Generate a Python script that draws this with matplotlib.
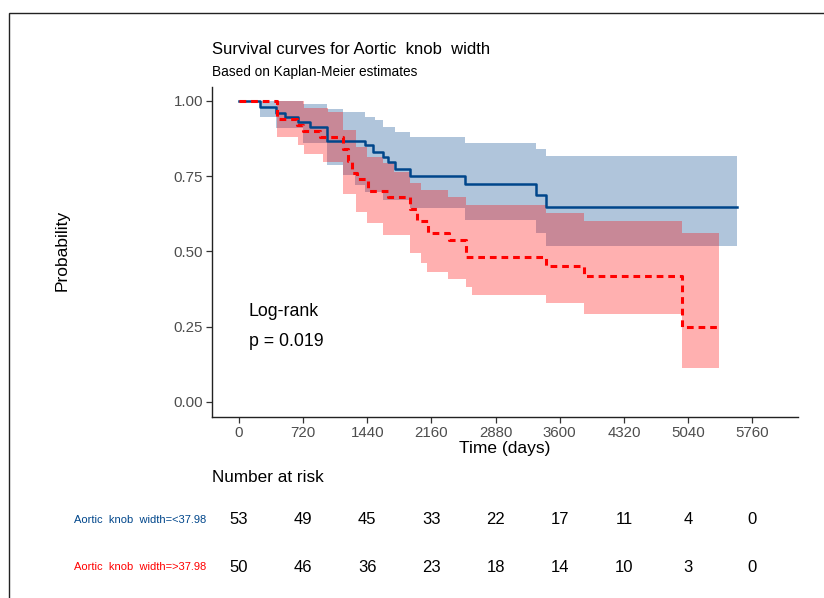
import matplotlib
matplotlib.use("Agg")
import matplotlib.pyplot as plt
import matplotlib.transforms as mtransforms
from matplotlib.patches import Rectangle

plt.rcParams['font.family'] = ['Liberation Sans', 'DejaVu Sans']

# Kaplan-Meier curve, group <37.98 (blue)
blue_t = [0, 236, 415, 517, 662, 797, 988, 1415, 1505, 1617, 1673, 1752, 1920, 2538, 3335, 3447]
blue_s = [1.0, 0.981, 0.961, 0.948, 0.93, 0.914, 0.868, 0.854, 0.831, 0.814, 0.797, 0.774, 0.751, 0.724, 0.688, 0.649]
blue_end = 5592
# confidence band, blue
blue_band_t = [0, 236, 415, 719, 988, 1168, 1302, 1415, 1527, 1617, 1752, 1920, 2538, 3335, 3447, 5592]
blue_upper = [1.0, 1.0, 1.0, 0.99, 0.975, 0.963, 0.963, 0.947, 0.937, 0.914, 0.897, 0.88, 0.86, 0.84, 0.817, 0.817]
blue_lower = [1.0, 0.947, 0.91, 0.86, 0.787, 0.754, 0.721, 0.698, 0.698, 0.671, 0.671, 0.645, 0.605, 0.561, 0.518, 0.518]

# Kaplan-Meier curve, group >37.98 (red)
red_t = [0, 427, 651, 719, 910, 1168, 1224, 1269, 1325, 1448, 1673, 1920, 1999, 2122, 2358, 2549, 3447, 3874, 4974]
red_s = [1.0, 0.94, 0.92, 0.90, 0.88, 0.84, 0.80, 0.76, 0.74, 0.70, 0.68, 0.64, 0.60, 0.56, 0.538, 0.482, 0.452, 0.419, 0.25]
red_end = 5390
# confidence band, red
red_band_t = [427, 662, 730, 943, 999, 1168, 1314, 1437, 1617, 1740, 1920, 2044, 2111, 2347, 2549, 2616, 3447, 3874, 4974, 5390]
red_upper = [1.0, 1.0, 0.977, 0.977, 0.963, 0.904, 0.847, 0.814, 0.794, 0.764, 0.727, 0.704, 0.704, 0.68, 0.655, 0.655, 0.628, 0.601, 0.561, 0.561]
red_lower = [0.88, 0.854, 0.824, 0.797, 0.797, 0.69, 0.631, 0.594, 0.555, 0.555, 0.495, 0.462, 0.432, 0.41, 0.382, 0.355, 0.328, 0.292, 0.113, 0.113]

# number at risk
risk_times = [0, 720, 1440, 2160, 2880, 3600, 4320, 5040, 5760]
risk_blue = [53, 49, 45, 33, 22, 17, 11, 4, 0]
risk_red = [50, 46, 36, 23, 18, 14, 10, 3, 0]
group_labels = ['Aortic  knob  width=<37.98', 'Aortic  knob  width=>37.98']

blue = '#00468B'
red = '#FF0000'

W, H = 824, 598
fig = plt.figure(figsize=(W / 100, H / 100), dpi=100)

# outer frame (only left and top visible)
fig.patches.append(Rectangle((9 / W, -0.1), 1.2, 1 - 13 / H + 0.1, transform=fig.transFigure,
                             fill=False, edgecolor='#222222', linewidth=1.0))

ax = fig.add_axes([212 / W, 1 - 417 / H, (798 - 212) / W, (417 - 87) / H])

ax.fill_between(blue_band_t, blue_lower, blue_upper, step='post', color=blue, alpha=0.31, linewidth=0)
ax.step(blue_t + [blue_end], blue_s + [blue_s[-1]], where='post', color=blue, linewidth=1.8)
ax.fill_between(red_band_t, red_lower, red_upper, step='post', color=red, alpha=0.31, linewidth=0)
ax.step(red_t + [red_end], red_s + [red_s[-1]], where='post', color=red, linewidth=2.2,
        linestyle=(0, (2.2, 1.6)))

ax.set_xlim(-303, 6274)
ax.set_ylim(-0.05, 1.0465)
ax.set_xticks(risk_times)
ax.set_yticks([0, 0.25, 0.5, 0.75, 1.0])
ax.set_yticklabels(['0.00', '0.25', '0.50', '0.75', '1.00'])
ax.tick_params(labelsize=10.8, labelcolor='#4D4D4D', color='#333333', length=4, width=0.9, pad=2.5)
for s in ['top', 'right']:
    ax.spines[s].set_visible(False)
for s in ['left', 'bottom']:
    ax.spines[s].set_linewidth(1.0)
    ax.spines[s].set_color('#222222')

ax.set_xlabel('Time (days)', fontsize=12.5, labelpad=1)
fig.text(62 / W, 1 - 250 / H, 'Probability', rotation=90, fontsize=12.5, ha='center', va='center')

ax.text(249 / W, 1 - 312 / H, 'Log-rank', transform=fig.transFigure, fontsize=12.8, va='center')
ax.text(249 / W, 1 - 342 / H, 'p = 0.019', transform=fig.transFigure, fontsize=12.8, va='center')

fig.text(212 / W, 1 - 50 / H, 'Survival curves for Aortic  knob  width', fontsize=12, va='center')
fig.text(212 / W, 1 - 72 / H, 'Based on Kaplan-Meier estimates', fontsize=9.8, va='center')

# risk table
fig.text(212 / W, 1 - 477 / H, 'Number at risk', fontsize=12.3, va='center')
trans = mtransforms.blended_transform_factory(ax.transData, fig.transFigure)
rows_y = [1 - 520 / H, 1 - 567 / H]
for y, counts, lab, col in zip(rows_y, [risk_blue, risk_red], group_labels, [blue, red]):
    for t, n in zip(risk_times, counts):
        ax.text(t, y, str(n), transform=trans, fontsize=12, ha='center', va='center', clip_on=False)
    fig.text(206 / W, y, lab, color=col, fontsize=8, ha='right', va='center')

fig.savefig('out.png', dpi=100)
